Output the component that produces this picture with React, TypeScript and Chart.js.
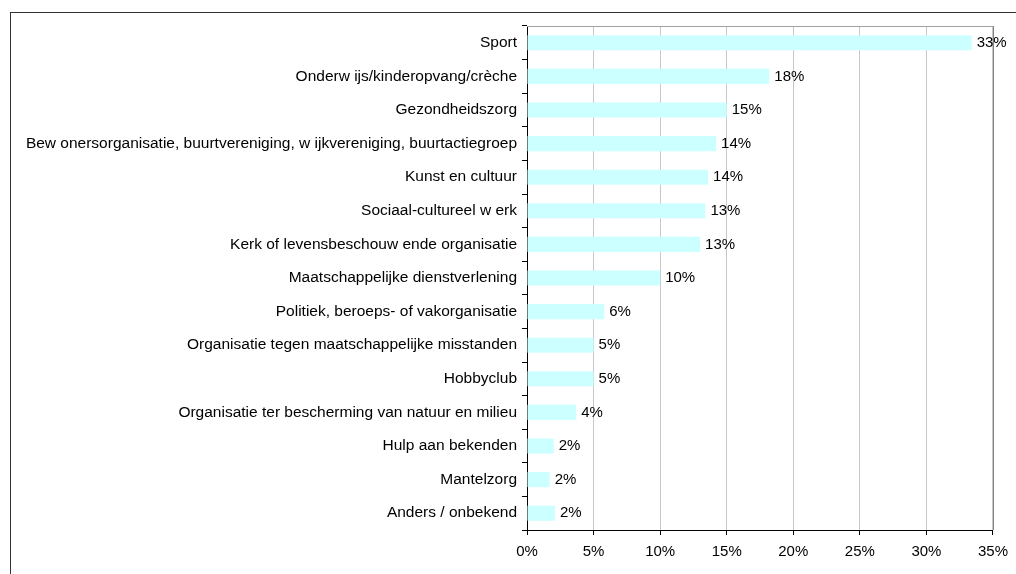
import React, { useEffect, useRef } from "react";
import { Chart, registerables } from "chart.js";

Chart.register(...registerables);

const categories = [
  "Sport",
  "Onderw ijs/kinderopvang/crèche",
  "Gezondheidszorg",
  "Bew onersorganisatie, buurtvereniging, w ijkvereniging, buurtactiegroep",
  "Kunst en cultuur",
  "Sociaal-cultureel w erk",
  "Kerk of levensbeschouw ende organisatie",
  "Maatschappelijke dienstverlening",
  "Politiek, beroeps- of vakorganisatie",
  "Organisatie tegen maatschappelijke misstanden",
  "Hobbyclub",
  "Organisatie ter bescherming van natuur en milieu",
  "Hulp aan bekenden",
  "Mantelzorg",
  "Anders / onbekend",
];

const values = [33.4, 18.2, 15.0, 14.2, 13.6, 13.4, 13.0, 10.0, 5.8, 5.0, 5.0, 3.7, 2.0, 1.7, 2.1];

const valueLabels = ["33%", "18%", "15%", "14%", "14%", "13%", "13%", "10%", "6%", "5%", "5%", "4%", "2%", "2%", "2%"];

const xTicks = [0, 5, 10, 15, 20, 25, 30, 35];

const FONT = "'Liberation Sans', Arial, sans-serif";

export default function App() {
  const ref = useRef<HTMLCanvasElement>(null);

  useEffect(() => {
    if (!ref.current) return;
    const labelPlugin = {
      id: "valueLabels",
      afterDatasetsDraw(chart: any) {
        const ctx = chart.ctx;
        const meta = chart.getDatasetMeta(0);
        ctx.save();
        ctx.font = `15px ${FONT}`;
        ctx.fillStyle = "#000";
        ctx.textAlign = "left";
        ctx.textBaseline = "middle";
        meta.data.forEach((bar: any, i: number) => {
          ctx.fillText(valueLabels[i], bar.x + 5, bar.y);
        });
        ctx.restore();
      },
      beforeDatasetsDraw(chart: any) {
        const { ctx, chartArea } = chart;
        ctx.save();
        ctx.strokeStyle = "#a0a0a0";
        ctx.lineWidth = 1;
        ctx.beginPath();
        ctx.moveTo(chartArea.left, chartArea.top + 0.5);
        ctx.lineTo(chartArea.right, chartArea.top + 0.5);
        ctx.stroke();
        ctx.strokeStyle = "#808080";
        ctx.beginPath();
        ctx.moveTo(chartArea.right + 0.5, chartArea.top);
        ctx.lineTo(chartArea.right + 0.5, chartArea.bottom);
        ctx.stroke();
        ctx.restore();
      },
    };

    const chart = new Chart(ref.current, {
      type: "bar",
      data: {
        labels: categories,
        datasets: [
          {
            data: values,
            backgroundColor: "#CCFFFF",
            borderWidth: 0,
            barPercentage: 0.45,
            categoryPercentage: 1,
          },
        ],
      },
      options: {
        indexAxis: "y",
        animation: false,
        responsive: false,
        maintainAspectRatio: false,
        layout: { padding: { left: 0, right: 23, top: 26, bottom: 0 } },
        plugins: {
          legend: { display: false },
          tooltip: { enabled: false },
          title: { display: false },
        },
        scales: {
          x: {
            type: "linear",
            min: 0,
            max: 35,
            afterBuildTicks(scale: any) {
              scale.ticks = xTicks.map((v) => ({ value: v }));
            },
            afterFit(scale: any) {
              scale.height = 44;
            },
            ticks: {
              callback: (v: any) => `${v}%`,
              color: "#000",
              font: { family: FONT, size: 15 },
              padding: 8,
              maxRotation: 0,
            },
            grid: {
              color: "#c8c8c8",
              tickColor: "#000",
              tickLength: 5,
              lineWidth: 1,
            },
            border: { color: "#000", width: 1 },
          },
          y: {
            afterFit(scale: any) {
              scale.width = 527;
            },
            ticks: {
              color: "#000",
              font: { family: FONT, size: 15.5 },
              padding: 5,
              autoSkip: false,
            },
            grid: {
              drawOnChartArea: false,
              tickColor: "#000",
              tickLength: 5,
              offset: true,
            },
            border: { color: "#000", width: 1 },
          },
        },
      },
      plugins: [labelPlugin],
    });
    return () => chart.destroy();
  }, []);

  return (
    <div style={{ position: "fixed", left: 0, top: 0, width: 1016, height: 574, overflow: "hidden", background: "#fff" }}>
      <div
        style={{
          position: "absolute",
          left: 10,
          top: 12,
          width: 1100,
          height: 700,
          border: "1px solid #333",
          boxSizing: "border-box",
        }}
      />
      <canvas ref={ref} width={1016} height={574} style={{ position: "absolute", left: 0, top: 0 }} />
    </div>
  );
}
